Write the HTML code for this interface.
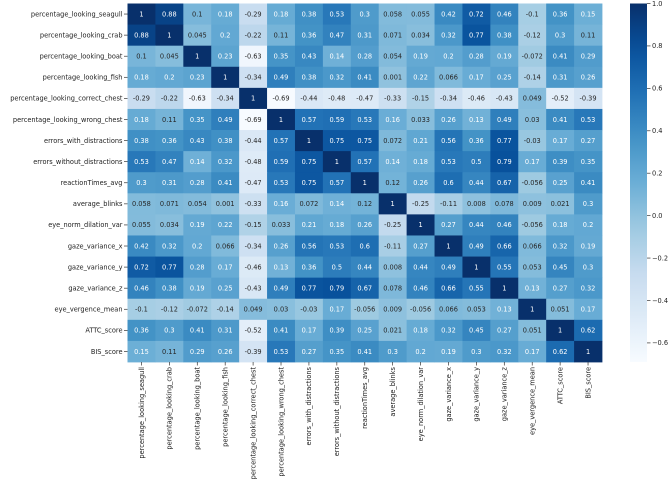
<!DOCTYPE html>
<html><head><meta charset="utf-8">
<style>
html,body{margin:0;padding:0;background:#fff;}
svg{display:block;font-family:"DejaVu Sans","Liberation Sans",sans-serif;}
</style></head>
<body>
<svg id="chart" width="668" height="492" viewBox="0 0 668 492" xmlns="http://www.w3.org/2000/svg"></svg>
<script>
const labels = ["percentage_looking_seagull","percentage_looking_crab","percentage_looking_boat","percentage_looking_fish","percentage_looking_correct_chest","percentage_looking_wrong_chest","errors_with_distractions","errors_without_distractions","reactionTimes_avg","average_blinks","eye_norm_dilation_var","gaze_variance_x","gaze_variance_y","gaze_variance_z","eye_vergence_mean","ATTC_score","BIS_score"];
const row0 = [1,0.88,0.1,0.18,-0.29,0.18,0.38,0.53,0.3,0.058,0.055,0.42,0.72,0.46,-0.1,0.36,0.15];
const row1 = [0.88,1,0.045,0.2,-0.22,0.11,0.36,0.47,0.31,0.071,0.034,0.32,0.77,0.38,-0.12,0.3,0.11];
const row2 = [0.1,0.045,1,0.23,-0.63,0.35,0.43,0.14,0.28,0.054,0.19,0.2,0.28,0.19,-0.072,0.41,0.29];
const row3 = [0.18,0.2,0.23,1,-0.34,0.49,0.38,0.32,0.41,0.001,0.22,0.066,0.17,0.25,-0.14,0.31,0.26];
const row4 = [-0.29,-0.22,-0.63,-0.34,1,-0.69,-0.44,-0.48,-0.47,-0.33,-0.15,-0.34,-0.46,-0.43,0.049,-0.52,-0.39];
const row5 = [0.18,0.11,0.35,0.49,-0.69,1,0.57,0.59,0.53,0.16,0.033,0.26,0.13,0.49,0.03,0.41,0.53];
const row6 = [0.38,0.36,0.43,0.38,-0.44,0.57,1,0.75,0.75,0.072,0.21,0.56,0.36,0.77,-0.03,0.17,0.27];
const row7 = [0.53,0.47,0.14,0.32,-0.48,0.59,0.75,1,0.57,0.14,0.18,0.53,0.5,0.79,0.17,0.39,0.35];
const row8 = [0.3,0.31,0.28,0.41,-0.47,0.53,0.75,0.57,1,0.12,0.26,0.6,0.44,0.67,-0.056,0.25,0.41];
const row9 = [0.058,0.071,0.054,0.001,-0.33,0.16,0.072,0.14,0.12,1,-0.25,-0.11,0.008,0.078,0.009,0.021,0.3];
const row10 = [0.055,0.034,0.19,0.22,-0.15,0.033,0.21,0.18,0.26,-0.25,1,0.27,0.44,0.46,-0.056,0.18,0.2];
const row11 = [0.42,0.32,0.2,0.066,-0.34,0.26,0.56,0.53,0.6,-0.11,0.27,1,0.49,0.66,0.066,0.32,0.19];
const row12 = [0.72,0.77,0.28,0.17,-0.46,0.13,0.36,0.5,0.44,0.008,0.44,0.49,1,0.55,0.053,0.45,0.3];
const row13 = [0.46,0.38,0.19,0.25,-0.43,0.49,0.77,0.79,0.67,0.078,0.46,0.66,0.55,1,0.13,0.27,0.32];
const row14 = [-0.1,-0.12,-0.072,-0.14,0.049,0.03,-0.03,0.17,-0.056,0.009,-0.056,0.066,0.053,0.13,1,0.051,0.17];
const row15 = [0.36,0.3,0.41,0.31,-0.52,0.41,0.17,0.39,0.25,0.021,0.18,0.32,0.45,0.27,0.051,1,0.62];
const row16 = [0.15,0.11,0.29,0.26,-0.39,0.53,0.27,0.35,0.41,0.3,0.2,0.19,0.3,0.32,0.17,0.62,1];
const matrix = [row0,row1,row2,row3,row4,row5,row6,row7,row8,row9,row10,row11,row12,row13,row14,row15,row16];
const cbTicks = [1.0,0.8,0.6,0.4,0.2,0.0,-0.2,-0.4,-0.6];
const vmin = -0.69, vmax = 1.0;

const NS = "http://www.w3.org/2000/svg";
const svg = document.getElementById("chart");
const X0 = 127.5, Y0 = 3.5, W = 474.5, H = 358.5;
const FS = "6.6";
const n = labels.length, cw = W / n, ch = H / n;
const xPos = i => X0 + i * cw;
const yPos = j => Y0 + j * ch;
const stops = [[247,251,255],[222,235,247],[198,219,239],[158,202,225],[107,174,214],[66,146,198],[33,113,181],[8,81,156],[8,48,107]];
function cmap(v){
  let t = (v - vmin) / (vmax - vmin); t = Math.max(0, Math.min(1, t));
  const p = t * 8, k = Math.min(7, Math.floor(p)), f = p - k;
  const a = stops[k], b = stops[k+1];
  return [0,1,2].map(c => Math.round(a[c] + (b[c]-a[c]) * f));
}
function lum(rgb){
  const l = rgb.map(c => { c/=255; return c <= 0.03928 ? c/12.92 : Math.pow((c+0.055)/1.055, 2.4); });
  return 0.2126*l[0] + 0.7152*l[1] + 0.0722*l[2];
}
function mk(tag, attrs, parent){
  const e = document.createElementNS(NS, tag);
  for (const k in attrs) e.setAttribute(k, attrs[k]);
  (parent || svg).appendChild(e);
  return e;
}

const cells = mk("g", {});


matrix.forEach((row, j) => {
  row.forEach((v, i) => {
    const rgb = cmap(v);
    const r = mk("rect", {x: xPos(i), y: yPos(j), width: cw + 0.4, height: ch + 0.4, fill: `rgb(${rgb})`}, cells);
    
    
    const t = mk("text", {x: xPos(i) + cw/2, y: yPos(j) + ch/2 + 2.3, "text-anchor": "middle", "font-size": FS, fill: lum(rgb) < 0.408 ? "#ffffff" : "#262626"}, cells);
    
    
    t.textContent = String(v);
  });
});

labels.forEach((lab, j) => {
  const y = yPos(j) + ch/2;
  mk("line", {x1: X0 - 3.5, x2: X0, y1: y, y2: y, stroke: "#333", "stroke-width": 0.7});
  const t = mk("text", {x: X0 - 5, y: y + 2.3, "text-anchor": "end", "font-size": FS, fill: "#222"});
  
  
  t.textContent = lab;
});
labels.forEach((lab, i) => {
  const x = xPos(i) + cw/2;
  mk("line", {x1: x, x2: x, y1: Y0 + H, y2: Y0 + H + 3.5, stroke: "#333", "stroke-width": 0.7});
  const yy = Y0 + H + 5;
  const t = mk("text", {x: x + 2.3, y: yy, "text-anchor": "end", "font-size": FS, fill: "#222", transform: `rotate(-90 ${x + 2.3} ${yy})`});
  
  
  t.textContent = lab;
});

// colorbar
const CX = 630, CW = 17;
const defs = mk("defs", {});
const grad = mk("linearGradient", {id: "cbg", x1: 0, y1: 1, x2: 0, y2: 0}, defs);
for (let s = 0; s <= 20; s++){
  const v = vmin + (vmax - vmin) * s / 20;
  mk("stop", {offset: (s/20*100) + "%", "stop-color": `rgb(${cmap(v)})`}, grad);
}
const cb = mk("rect", {x: CX, y: Y0, width: CW, height: H, fill: "url(#cbg)"});


const cbY = v => Y0 + H - (v - vmin) / (vmax - vmin) * H;
cbTicks.forEach(v => {
  const y = cbY(v);
  mk("line", {x1: CX + CW, x2: CX + CW + 3.5, y1: y, y2: y, stroke: "#333", "stroke-width": 0.7});
  const t = mk("text", {x: CX + CW + 5, y: y + 2.3, "font-size": FS, fill: "#222"});
  
  
  t.textContent = (v < 0 ? "\u2212" : "") + Math.abs(v).toFixed(1);
});
</script>
</body></html>
